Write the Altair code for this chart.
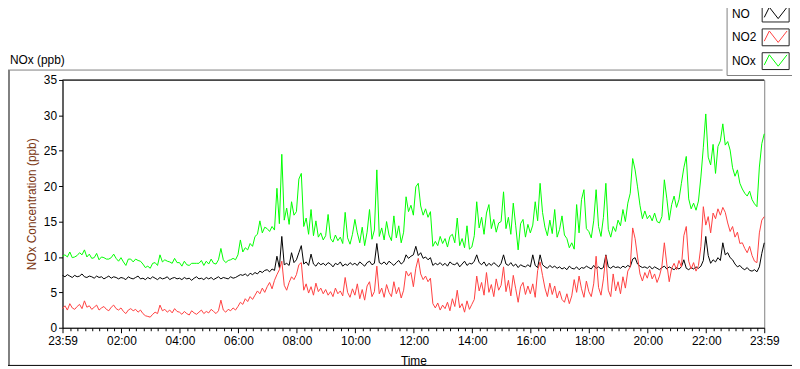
import altair as alt
import pandas as pd

# ---------------- data (5-minute samples, minutes after 23:59) ----------------
minutes = list(range(0, 1441, 5))

no = [
    7.4, 7.2, 7.5, 7.3, 7.1, 7.4, 7.2, 7.3, 7.6, 7.2, 7.1, 7.3,
    7.2, 7.0, 7.3, 7.1, 7.2, 6.9, 7.1, 7.3, 7.0, 7.2, 7.1, 6.9,
    7.1, 7.0, 6.8, 7.2, 7.0, 6.9, 7.1, 7.3, 6.9, 7.0, 6.8, 7.1,
    6.9, 7.2, 7.0, 6.8, 7.1, 6.9, 7.0, 7.2, 6.8, 7.0, 7.1, 6.9,
    7.0, 6.8, 7.1, 6.9, 7.0, 6.7, 7.0, 7.2, 6.9, 7.0, 6.8, 7.1,
    6.9, 7.1, 6.8, 7.0, 7.2, 6.9, 7.1, 7.0, 6.9, 7.2, 7.0, 7.1,
    7.3, 7.5, 7.4, 7.6, 7.3, 7.7, 7.5, 7.8, 7.6, 8.0, 7.8, 8.1,
    8.2, 7.9, 8.3, 8.1, 10.1, 8.5, 12.9, 8.9, 9.1, 8.8, 10.6, 9.2,
    9.6, 10.6, 11.6, 9.0, 9.3, 8.8, 10.4, 9.0, 8.7, 9.2, 8.9, 9.1,
    8.8, 9.2, 9.0, 8.6, 9.1, 8.9, 9.3, 8.7, 9.0, 8.8, 9.2, 8.9,
    9.1, 8.8, 9.3, 9.0, 8.7, 9.2, 9.4, 8.9, 9.1, 11.9, 9.2, 9.0,
    9.3, 8.9, 9.4, 9.1, 8.8, 9.2, 9.5, 9.0, 9.3, 10.3, 9.8, 10.1,
    10.3, 11.5, 10.2, 10.6, 9.8, 10.0, 9.6, 9.9, 8.8, 9.1, 8.9, 9.2,
    8.8, 9.1, 8.7, 9.3, 9.0, 8.9, 9.2, 8.6, 9.0, 9.4, 8.8, 9.1,
    9.0, 9.4, 10.3, 9.2, 8.9, 9.3, 8.7, 9.1, 8.8, 9.2, 8.9, 8.6,
    9.1, 10.3, 9.0, 8.8, 9.2, 8.7, 9.0, 8.5, 8.9, 8.7, 8.6, 8.9,
    8.6, 10.3, 8.8, 8.5, 10.3, 8.9, 8.6, 8.4, 8.8, 8.5, 8.7, 8.4,
    8.6, 8.3, 8.5, 8.2, 8.7, 8.4, 8.3, 8.6, 8.2, 8.5, 8.4, 8.7,
    8.5, 8.3, 8.8, 8.4, 8.6, 8.3, 8.5, 10.3, 8.6, 8.4, 8.7, 8.5,
    8.6, 8.4, 8.7, 8.5, 8.8, 8.6, 9.7, 9.9, 9.0, 8.7, 8.5, 8.6,
    8.4, 8.7, 8.3, 8.6, 8.4, 8.2, 8.5, 8.7, 8.3, 8.6, 8.4, 8.2,
    8.5, 8.3, 8.6, 9.6, 8.4, 8.2, 8.5, 8.3, 8.6, 8.4, 8.7, 9.5,
    12.9, 10.2, 9.1, 9.6, 9.3, 9.9, 9.5, 12.0, 10.3, 10.6, 9.9, 9.6,
    9.0, 8.6, 8.8, 8.4, 8.2, 8.5, 8.1, 8.0, 8.2, 7.9, 8.6, 10.5,
    12.0,
]

no2 = [
    2.7, 3.1, 2.5, 3.4, 2.8, 2.6, 3.0, 3.3, 2.7, 3.8, 2.9, 3.1,
    2.6, 2.9, 3.2, 2.5, 2.8, 3.0, 2.6, 2.4, 2.9, 3.2, 2.7, 2.5,
    2.8, 2.3, 2.0, 2.5, 2.7, 2.4, 2.6, 2.2, 2.5, 2.0, 1.7, 1.6,
    1.5, 1.9, 2.2, 2.0, 3.2, 2.4, 2.6, 2.2, 2.5, 2.1, 2.7, 2.3,
    2.2, 1.9, 2.3, 2.0, 1.8, 2.4, 2.1, 1.9, 2.2, 2.5, 2.0, 2.3,
    2.1, 2.6, 2.3, 2.0, 2.4, 3.9, 2.5, 2.2, 2.6, 2.4, 2.8, 2.5,
    3.0, 3.6, 3.3, 4.1, 3.7, 4.4, 4.0, 4.6, 5.2, 4.8, 5.6, 5.0,
    5.8, 6.4, 5.5, 6.7, 7.5, 8.2, 9.4, 6.0, 5.3, 6.4, 7.2, 6.8,
    7.5, 8.9, 9.2, 5.3, 6.2, 4.9, 5.8, 4.6, 6.3, 5.1, 5.6, 4.8,
    5.4, 4.6, 5.1, 4.4, 5.6, 4.8, 5.2, 4.5, 7.1, 5.0, 4.3, 5.5,
    4.6, 6.2, 4.1, 5.4, 3.9, 5.9, 6.5, 4.4, 5.1, 8.7, 4.8, 5.6,
    4.3, 6.1, 5.0, 4.4, 6.5, 4.8, 5.7, 4.2, 5.3, 8.0, 7.3, 7.8,
    5.8, 8.4, 9.8, 7.6, 6.8, 7.3, 6.5, 7.0, 3.4, 2.8, 3.5, 2.5,
    3.2, 2.7, 3.6, 2.4, 4.1, 3.0, 5.3, 2.8, 3.4, 2.2, 3.8, 2.6,
    3.3, 4.0, 7.3, 5.2, 6.4, 4.6, 7.8, 5.0, 6.1, 4.4, 6.9, 5.3,
    6.0, 8.6, 5.1, 6.7, 4.5, 7.4, 5.5, 3.6, 5.8, 6.4, 4.7, 5.9,
    4.8, 6.2, 4.3, 8.1, 9.3, 7.4, 5.6, 4.4, 6.3, 4.7, 5.9, 4.2,
    5.2, 4.0, 3.6, 4.8, 3.4, 4.5, 6.8, 5.0, 7.3, 5.5, 4.3, 6.6,
    5.1, 4.4, 6.2, 10.1, 5.7, 4.6, 6.9, 10.2, 5.3, 4.4, 7.6, 5.2,
    6.5, 4.8, 7.2, 5.6, 8.0, 8.6, 14.1, 12.6, 10.0, 7.6, 6.6, 7.8,
    7.0, 8.2, 6.9, 7.6, 6.4, 7.3, 8.7, 12.0, 9.0, 6.5, 8.4, 9.1,
    8.2, 9.5, 8.6, 13.0, 14.3, 9.4, 8.3, 9.2, 8.0, 8.8, 11.5, 17.1,
    14.5, 15.7, 13.4, 16.2, 15.4, 16.8, 15.9, 17.0, 16.3, 14.8, 13.6, 14.3,
    12.8, 13.5, 11.9, 12.0, 11.2, 10.6, 11.5, 10.2, 9.4, 9.2, 13.4, 15.2,
    15.7,
]

nox = [
    10.1, 10.3, 10.0, 10.7, 9.9, 10.0, 10.2, 10.6, 10.3, 11.0, 10.0, 10.4,
    9.8, 9.9, 10.5, 9.6, 10.0, 9.9, 9.7, 9.7, 9.9, 10.4, 9.8, 9.4,
    9.9, 9.3, 8.8, 9.7, 9.7, 9.3, 9.7, 9.5, 9.4, 9.0, 8.5, 8.7,
    8.4, 9.1, 9.2, 8.8, 10.3, 9.3, 9.6, 9.4, 9.3, 9.1, 9.8, 9.2,
    9.2, 8.7, 9.4, 8.9, 8.8, 9.1, 9.1, 9.1, 9.1, 9.5, 8.8, 9.4,
    9.0, 9.7, 9.1, 9.0, 9.6, 11.2, 9.6, 9.2, 9.5, 9.6, 9.8, 9.6,
    10.3, 12.4, 10.7, 11.3, 11.0, 11.9, 11.5, 12.9, 13.2, 15.1, 13.4, 14.2,
    14.0, 13.6, 14.3, 13.8, 19.7, 14.7, 24.5, 15.2, 16.9, 14.6, 17.8, 15.9,
    16.4, 21.0, 21.8, 14.3, 15.5, 13.2, 16.7, 13.0, 15.1, 12.8, 13.4, 12.4,
    13.0, 16.0, 12.6, 12.1, 13.1, 12.3, 12.8, 11.9, 16.3, 12.7, 11.8, 13.2,
    15.3, 13.4, 12.0, 14.2, 11.6, 13.5, 16.7, 12.5, 13.8, 22.3, 12.9, 14.1,
    12.4, 15.0, 13.1, 12.3, 15.8, 12.7, 14.4, 12.0, 13.5, 18.5, 16.4, 17.3,
    15.9, 19.9, 20.4, 17.2, 15.9, 16.8, 15.6, 16.4, 11.5, 12.2, 11.6, 12.9,
    11.9, 12.6, 11.4, 12.9, 13.2, 12.0, 15.5, 11.6, 12.6, 11.3, 14.4, 11.1,
    11.4, 13.0, 17.8, 14.1, 15.6, 13.2, 16.2, 17.4, 14.0, 15.3, 13.5, 14.8,
    15.0, 19.2, 14.0, 15.6, 13.2, 17.6, 14.4, 11.0, 14.7, 15.3, 12.8, 14.6,
    13.4, 14.5, 17.8, 15.1, 20.4, 16.3, 14.2, 13.0, 15.2, 13.3, 16.7, 12.8,
    13.9, 15.8, 13.1, 12.6, 11.3, 12.0, 11.1, 17.4, 13.4, 18.1, 19.5, 14.0,
    13.6, 12.7, 15.1, 19.5, 14.3, 12.9, 15.6, 20.4, 13.9, 12.8, 14.3, 13.6,
    15.2, 14.4, 16.7, 15.0, 17.6, 19.0, 23.9, 22.3, 19.9, 17.3, 15.4, 16.5,
    15.4, 15.9, 15.1, 16.2, 15.0, 14.8, 15.7, 20.9, 18.3, 15.2, 17.4, 18.6,
    17.0, 18.1, 20.4, 22.6, 24.2, 18.2, 16.8, 17.6, 16.6, 17.9, 21.3, 25.5,
    30.2, 24.1, 23.0, 25.9, 21.8, 25.6, 26.4, 28.8, 25.8, 26.3, 25.1, 22.6,
    21.4, 22.3, 20.4, 19.6, 19.0, 18.6, 19.3, 18.1, 17.5, 17.1, 22.7, 26.0,
    27.4,
]

series_names = ["NO", "NO2", "NOx"]
box_keys = ["NO box", "NO2 box", "NOx box"]
series_colors = ["#000000", "#ff4040", "#00ff00"]
y_ticks = [0, 5, 10, 15, 20, 25, 30, 35]

rows = []
for name, vals in zip(series_names, [no, no2, nox]):
    for t, v in zip(minutes, vals):
        rows.append({"t": t, "value": v, "series": name})
df = pd.DataFrame(rows)

# ---------------- layout / style ----------------
FONT = "Liberation Sans"
W, H = 708, 250

x_tick_values = [0] + [1 + 15 * k for k in range(1, 96)] + [1440]
major_test = "datum.value == 0 || datum.value == 1440 || (datum.value > 1 && (datum.value - 1) % 120 == 0)"
label_expr = (
    "datum.value == 0 || datum.value == 1440 ? '23:59' : "
    "((datum.value > 1 && (datum.value - 1) % 120 == 0) ? "
    "(floor((datum.value - 1) / 60) < 10 ? '0' : '') + floor((datum.value - 1) / 60) + ':00' : '')"
)

x_enc = alt.X(
    "t:Q",
    scale=alt.Scale(domain=[0, 1440], nice=False, zero=False),
    axis=alt.Axis(
        values=x_tick_values,
        labelExpr=label_expr,
        labelOverlap=False,
        labelFlush=False,
        tickSize={"condition": {"test": major_test, "value": 5}, "value": 3},
        labelFontSize=12,
        labelPadding=3,
        labelColor="#000000",
        title="Time",
        titleFontSize=12,
        titleFontWeight="normal",
        titlePadding=9,
        titleColor="#000000",
        domainColor="#000000",
        tickColor="#000000",
        grid=False,
    ),
)

y_enc = alt.Y(
    "value:Q",
    scale=alt.Scale(domain=[0, 35], nice=False),
    axis=alt.Axis(
        values=y_ticks,
        labelOverlap=False,
        tickSize=4,
        labelFontSize=12,
        labelPadding=2,
        labelColor="#000000",
        title="NOx Concentration (ppb)",
        titleFontSize=12,
        titleFontWeight="normal",
        titleColor="#7a3510",
        titlePadding=5,
        domainColor="#000000",
        tickColor="#000000",
        grid=False,
    ),
)

# zigzag sample; the zero-length end segments give it the same extent as the box
zig_path = "M-1.35,0.45 L-0.75,-0.75 L0.3,0.6 L1.35,-0.75 M-1.6,-1 L-1.6,-1 M1.6,1 L1.6,1"
box_path = "M-1.6,-1 L1.6,-1 L1.6,1 L-1.6,1 Z"

legend_common = dict(
    orient="none",
    legendX=670,
    legendY=-79,
    direction="vertical",
    title=None,
    symbolSize=289,
    symbolStrokeWidth=1,
    symbolFillColor="transparent",
    symbolOffset=37.5,
    labelOffset={"expr": "-53"},
    labelAlign="left",
    labelFont=FONT,
    labelFontSize=12,
    rowPadding=2,
    padding=3,
)

lines = alt.Chart(df).mark_line(strokeWidth=1).encode(
    x=x_enc,
    y=y_enc,
    color=alt.Color(
        "series:N",
        scale=alt.Scale(domain=series_names, range=series_colors),
        legend=alt.Legend(
            symbolType=zig_path,
            labelColor="#000000",
            strokeColor="#808080",
            **legend_common,
        ),
    ),
)

boxes = (
    alt.Chart(df)
    .transform_filter("false")
    .transform_calculate(series_b="datum.series + ' box'")
    .mark_point(filled=False, color="#000000")
    .encode(
        x=x_enc,
        y=y_enc,
        shape=alt.Shape(
            "series_b:N",
            scale=alt.Scale(domain=box_keys, range=[box_path] * 3),
            legend=alt.Legend(
                symbolStrokeColor="#222222",
                symbolOpacity=1,
                labelExpr="''",
                **legend_common,
            ),
        ),
    )
)

one = pd.DataFrame({"k": [0]})
top_rule = alt.Chart(one).mark_rule(color="#000000").encode(
    x=alt.value(0), x2=alt.value(W), y=alt.value(0)
)
frame_top = alt.Chart(one).mark_rule(color="#808080").encode(
    x=alt.value(-55), x2=alt.value(666), y=alt.value(-10)
)
frame_left = alt.Chart(one).mark_rule(color="#808080", strokeWidth=2).encode(
    x=alt.value(-54), y=alt.value(-10), y2=alt.value(288)
)
frame_bottom = alt.Chart(one).mark_rule(color="#000000").encode(
    x=alt.value(-55), x2=alt.value(737), y=alt.value(288)
)
unit_label = alt.Chart(pd.DataFrame({"label": ["NOx (ppb)"]})).mark_text(
    align="left", baseline="middle", font=FONT, fontSize=12, color="#000000"
).encode(x=alt.value(-53), y=alt.value(-20), text="label:N")

chart = (
    alt.layer(lines, boxes, top_rule, frame_top, frame_left, frame_bottom, unit_label)
    .properties(
        width=W,
        height=H,
        autosize=alt.AutoSizeParams(type="none"),
        padding={"left": 55, "top": 71, "right": 28, "bottom": 39},
        background="#ffffff",
    )
    .configure(font=FONT)
    .configure_view(stroke="#808080", strokeWidth=1)
    .configure_axis(labelFont=FONT, titleFont=FONT)
)

chart.save("out.html", embed_options={"renderer": "svg", "actions": False})
